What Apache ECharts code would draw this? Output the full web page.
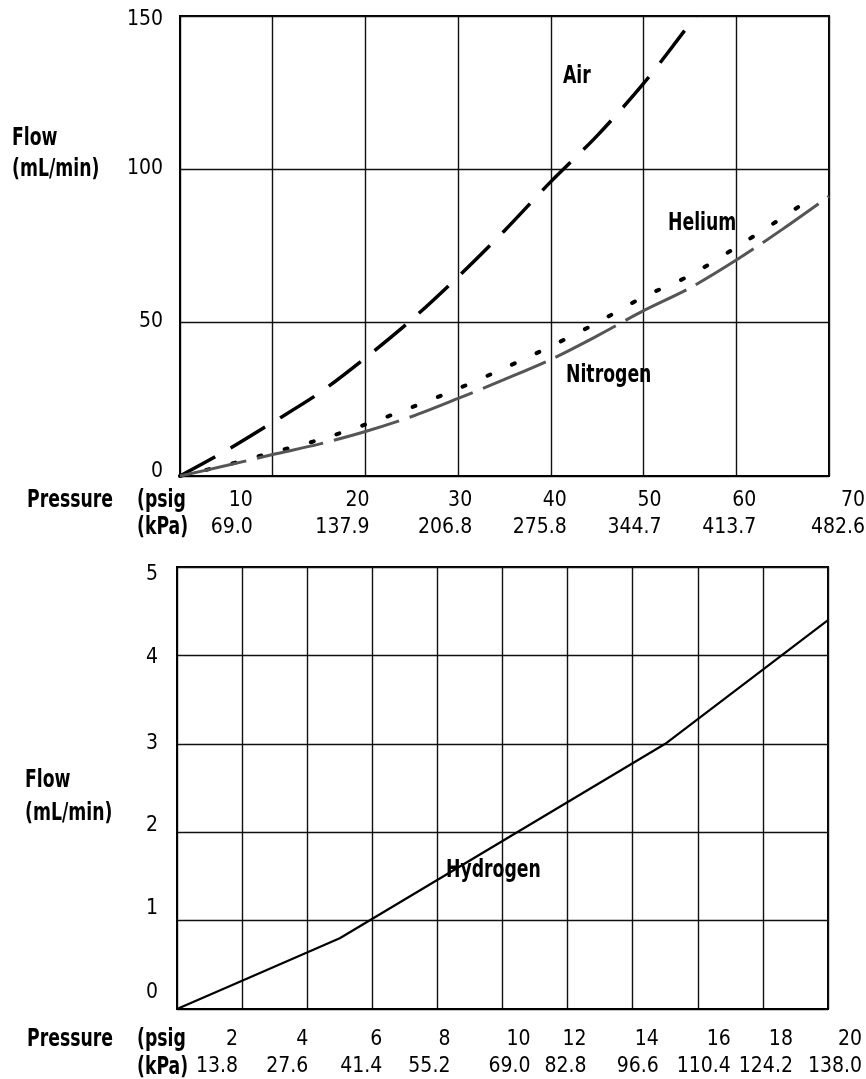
<!DOCTYPE html>
<html><head><meta charset="utf-8">
<script src="https://cdn.jsdelivr.net/npm/echarts@6/dist/echarts.min.js"></script>
<style>html,body{margin:0;padding:0;background:#fff}#c{width:866px;height:1079px}</style>
</head><body><div id="c"></div><script>
const FONT = "'DejaVu Sans Condensed','Liberation Sans Narrow','Liberation Sans',sans-serif";
const NUM_SIZE = 21;

// ---------- Top chart data ----------
const topPsigTicks = [0, 10, 20, 30, 40, 50, 60, 70];
const topKpaTicks = ['', '69.0', '137.9', '206.8', '275.8', '344.7', '413.7', '482.6'];
const topFlowTicks = [0, 50, 100, 150];

const airPsig = [0, 5, 10, 15, 20, 25, 30, 35, 40, 45, 50, 55, 55.6];
const airFlow = [0, 8.3, 17.5, 27, 38.5, 51, 65, 80, 96, 111, 128, 147.5, 150];

const heliumPsig = [0, 5, 10, 15, 20, 25, 30, 35, 40, 45, 50, 55, 60, 65, 68];
const heliumFlow = [0, 3.6, 7.7, 11.8, 16.8, 22.4, 28.5, 35.2, 42.3, 50.0, 58.4, 65.4, 74.6, 84.3, 90.5];

const nitrogenPsig = [0, 5, 10, 15, 20, 25, 30, 35, 40, 45, 50, 55, 60, 65, 70];
const nitrogenFlow = [0, 3.4, 7.0, 10.4, 14.5, 19.4, 25.3, 31.5, 38.0, 45.7, 53.9, 61.3, 70.4, 80.5, 91.2];

// ---------- Bottom chart data ----------
const botPsigTicks = [0, 2, 4, 6, 8, 10, 12, 14, 16, 18, 20];
const botKpaTicks = ['', '13.8', '27.6', '41.4', '55.2', '69.0', '82.8', '96.6', '110.4', '124.2', '138.0'];
const botFlowTicks = [0, 1, 2, 3, 4, 5];

const hydrogenPsig = [0, 2, 5, 10, 15, 20];
const hydrogenFlow = [0, 0.32, 0.8, 1.9, 3.0, 4.4];

// ---------- label styling (offsets of the printed labels, px) ----------
const topXShift = {10: -20, 20: 4, 30: 14, 40: 16, 50: 18, 60: 20, 70: 36};
const botXShift = {2: -4, 4: 1, 6: 10, 8: 13, 10: 28, 12: 19, 14: 26, 16: 33, 18: 30, 20: 34};
const topYShift = {0: -4, 50: -1, 100: -1, 150: 4};
const botYShift = {0: -16, 1: -12, 2: -7, 3: 0, 4: 2, 5: 8};

const measureCtx = document.createElement('canvas').getContext('2d');
function textWidth(s, size, weight) {
  measureCtx.font = (weight || 'normal') + ' ' + size + 'px ' + FONT;
  return measureCtx.measureText(s).width;
}
function linePad(dx, w) {
  const d = 2 * dx - w;
  return d >= 0 ? [0, 0, 0, d] : [0, -d, 0, 0];
}
function xRich(ticks, kpa, shifts) {
  const rich = {};
  ticks.forEach((v, i) => {
    if (v === 0) return;
    const dx = shifts[v] || 0;
    const base = {fontFamily: FONT, fontSize: NUM_SIZE, lineHeight: 27, color: '#000'};
    rich['a' + v] = Object.assign({padding: linePad(dx, textWidth(String(v), NUM_SIZE))}, base);
    rich['b' + v] = Object.assign({padding: linePad(dx, textWidth(kpa[i], NUM_SIZE))}, base);
  });
  return rich;
}
function xFormatter(ticks, kpa) {
  return function (value) {
    const i = ticks.indexOf(value);
    if (i <= 0) return '';
    return '{a' + value + '|' + value + '}\n{b' + value + '|' + kpa[i] + '}';
  };
}
function yRich(ticks, shifts) {
  const rich = {};
  ticks.forEach(v => {
    const dy = shifts[v] || 0;
    rich['y' + v] = {padding: [2 * Math.max(dy, 0), 0, 2 * Math.max(-dy, 0), 0], fontFamily: FONT,
      fontSize: NUM_SIZE, lineHeight: 24, color: '#000'};
  });
  return rich;
}
function yFormatter(value) { return '{y' + value + '|' + value + '}'; }

const splitLine = {show: true, lineStyle: {color: '#111', width: 1.4}};

function xAxisDef(gridIndex, ticks, kpa, shifts, margin) {
  return {
    type: 'value', gridIndex, min: ticks[0], max: ticks[ticks.length - 1],
    interval: ticks[1] - ticks[0],
    axisLine: {show: true, lineStyle: {color: '#000', width: 2}},
    axisTick: {show: false}, splitLine,
    axisLabel: {show: true, margin, align: 'center', verticalAlign: 'top', hideOverlap: false,
      showMinLabel: true, showMaxLabel: true,
      formatter: xFormatter(ticks, kpa), rich: xRich(ticks, kpa, shifts)}
  };
}
function yAxisDef(gridIndex, ticks, shifts, margin) {
  return {
    type: 'value', gridIndex, min: ticks[0], max: ticks[ticks.length - 1],
    interval: ticks[1] - ticks[0],
    axisLine: {show: true, lineStyle: {color: '#000', width: 2}},
    axisTick: {show: false}, splitLine,
    axisLabel: {show: true, margin, hideOverlap: false, showMinLabel: true, showMaxLabel: true,
      formatter: yFormatter, rich: yRich(ticks, shifts)}
  };
}
const zip = (xs, ys) => xs.map((x, i) => [x, ys[i]]);

function label(text, x, y, align) {
  return {type: 'text', silent: true, z: 100, x, y, scaleX: 0.8, scaleY: 1,
    style: {text, x: 0, y: 0, fill: '#000', fontFamily: FONT, fontSize: 24, fontWeight: 'bold',
      align: align || 'left', verticalAlign: 'middle', textAlign: align || 'left', textVerticalAlign: 'middle'}};
}

const chart = echarts.init(document.getElementById('c'), null, {renderer: 'canvas'});
chart.setOption({
  animation: false,
  backgroundColor: '#fff',
  grid: [
    {left: 180, top: 16, width: 649, height: 460, show: true, borderColor: '#000', borderWidth: 2,
      containLabel: false, outerBoundsMode: 'none'},
    {left: 177, top: 567, width: 651, height: 442, show: true, borderColor: '#000', borderWidth: 2,
      containLabel: false, outerBoundsMode: 'none'}
  ],
  xAxis: [
    xAxisDef(0, topPsigTicks, topKpaTicks, topXShift, 11),
    xAxisDef(1, botPsigTicks, botKpaTicks, botXShift, 17)
  ],
  yAxis: [
    yAxisDef(0, topFlowTicks, topYShift, 17),
    yAxisDef(1, botFlowTicks, botYShift, 19)
  ],
  series: [
    {name: 'Air', type: 'line', xAxisIndex: 0, yAxisIndex: 0, data: zip(airPsig, airFlow),
      showSymbol: false, smooth: 0.3, lineStyle: {color: '#000', width: 3.5, type: [40, 18], cap: 'butt'}},
    {name: 'Helium', type: 'line', xAxisIndex: 0, yAxisIndex: 0, data: zip(heliumPsig, heliumFlow),
      showSymbol: false, smooth: 0.3, lineStyle: {color: '#000', width: 4, type: [3, 24], cap: 'round'}},
    {name: 'Nitrogen', type: 'line', xAxisIndex: 0, yAxisIndex: 0, data: zip(nitrogenPsig, nitrogenFlow),
      showSymbol: false, smooth: 0.3, lineStyle: {color: '#555', width: 3, type: [68, 11], cap: 'butt'}},
    {name: 'Hydrogen', type: 'line', xAxisIndex: 1, yAxisIndex: 1, data: zip(hydrogenPsig, hydrogenFlow),
      showSymbol: false, lineStyle: {color: '#000', width: 2.2, type: 'solid'}}
  ],
  graphic: [
    label('Flow', 12, 139),
    label('(mL/min)', 12, 170),
    label('Pressure', 113, 501, 'right'),
    label('(psig', 137, 501),
    label('(kPa)', 137, 528),
    label('Air', 563, 77),
    label('Helium', 668, 224),
    label('Nitrogen', 566, 376),
    label('Flow', 25, 781),
    label('(mL/min)', 25, 814),
    label('Pressure', 113, 1040, 'right'),
    label('(psig', 137, 1040),
    label('(kPa)', 137, 1068),
    label('Hydrogen', 446, 871)
  ]
});
</script></body></html>
